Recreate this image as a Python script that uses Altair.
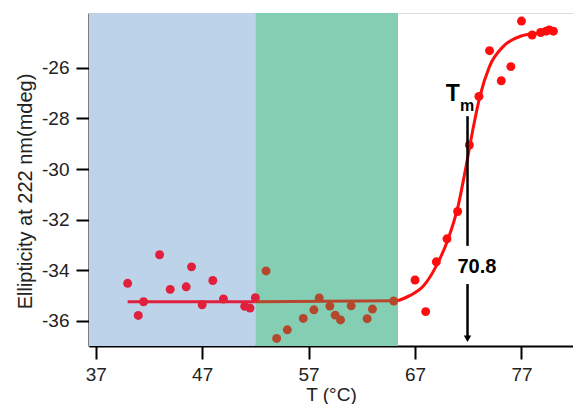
import altair as alt
import pandas as pd

# ---- data ----
blue_T = [40.0, 41.0, 41.5, 43.0, 44.0, 45.5, 46.0, 47.0, 48.0, 49.0, 51.0, 51.5, 52.0]
blue_E = [-34.52, -35.79, -35.25, -33.39, -34.76, -34.66, -33.87, -35.37, -34.41, -35.14, -35.43, -35.50, -35.09]

green_T = [53.0, 54.0, 55.0, 56.5, 57.5, 58.0, 59.0, 59.5, 60.0, 61.0, 62.5, 63.0, 65.0]
green_E = [-34.03, -36.70, -36.36, -35.91, -35.57, -35.10, -35.42, -35.78, -35.97, -35.41, -35.92, -35.54, -35.22]

white_T = [67.0, 68.0, 69.0, 70.0, 71.0, 72.1, 73.0, 74.0, 75.1, 76.0, 77.0, 78.0, 78.8, 79.3, 79.6, 80.0]
white_E = [-34.39, -35.64, -33.67, -32.76, -31.68, -29.05, -27.13, -25.32, -26.51, -25.95, -24.15, -24.70, -24.60, -24.55, -24.50, -24.55]

fit_blue_T = [40.0, 52.0]
fit_blue_E = [-35.25, -35.25]
fit_green_T = [52.0, 65.4]
fit_green_E = [-35.25, -35.21]
fit_white_T = [65.4, 66.5, 67.8, 69.0, 70.1, 71.05, 71.8, 72.5, 73.1, 74.0, 75.3, 76.9, 78.7, 80.1]
fit_white_E = [-35.21, -35.01, -34.62, -33.83, -32.78, -31.46, -29.88, -28.30, -27.12, -25.94, -25.15, -24.75, -24.62, -24.58]

regions_start = [36.37, 52.0]
regions_end = [52.0, 65.4]
regions_color = ["#bdd3e9", "#84cfb4"]

x_ticks = [37, 47, 57, 67, 77]
y_ticks = [-36, -34, -32, -30, -28, -26]
x_domain = [36.37, 81.84]
y_domain = [-37.0, -23.83]

tm_x = 71.93
tm_label = "70.8"

W, H = 484, 333
FONT = "Liberation Sans"

xs = alt.Scale(domain=x_domain, nice=False, zero=False)
ys = alt.Scale(domain=y_domain, nice=False, zero=False)

x_axis = alt.Axis(values=x_ticks, title="T (°C)", grid=False, tickSize=13, tickWidth=2,
                  domainWidth=2, domainColor="black", tickColor="black",
                  labelFontSize=19, labelColor="#222222", labelFont=FONT, labelPadding=6,
                  labelExpr="'' + datum.value",
                  titleFontSize=19, titleFont=FONT, titleFontWeight="normal", titleColor="#222222",
                  titlePadding=1)
y_axis = alt.Axis(values=y_ticks, title="Ellipticity at 222 nm(mdeg)", grid=False, tickSize=13,
                  tickWidth=2, domainWidth=2, domainColor="black", tickColor="black",
                  labelFontSize=19, labelColor="#222222", labelFont=FONT, labelPadding=7,
                  labelExpr="'' + datum.value",
                  titleFontSize=20, titleFont=FONT, titleFontWeight="normal", titleColor="#222222",
                  titlePadding=6, titleY=178)

reg_df = pd.DataFrame({"x": regions_start, "x2": regions_end, "c": regions_color})
rects = alt.Chart(reg_df).mark_rect().encode(
    x=alt.X("x:Q", scale=xs, axis=x_axis),
    x2="x2:Q",
    y=alt.value(0),
    y2=alt.value(H),
    color=alt.Color("c:N", scale=None),
)

def line(T, E, color):
    df = pd.DataFrame({"T": T, "E": E})
    return alt.Chart(df).mark_line(color=color, strokeWidth=3, interpolate="monotone").encode(
        x=alt.X("T:Q", scale=xs, axis=x_axis), y=alt.Y("E:Q", scale=ys, axis=y_axis))

def pts(T, E, color):
    df = pd.DataFrame({"T": T, "E": E})
    return alt.Chart(df).mark_circle(color=color, size=80, opacity=1).encode(
        x=alt.X("T:Q", scale=xs), y=alt.Y("E:Q", scale=ys))

c_blue, c_green, c_white = "#e0203c", "#b5482c", "#ff0d0d"

layers = [
    rects,
    line(fit_blue_T, fit_blue_E, c_blue),
    line(fit_green_T, fit_green_E, c_green),
    line(fit_white_T, fit_white_E, c_white),
    pts(blue_T, blue_E, c_blue),
    pts(green_T, green_E, c_green),
    pts(white_T, white_E, c_white),
]

rule_df = pd.DataFrame({"x": [tm_x, tm_x], "y": [-27.91, -34.55], "y2": [-33.04, -36.75]})
rules = alt.Chart(rule_df).mark_rule(color="black", strokeWidth=2.5).encode(
    x=alt.X("x:Q", scale=xs), y=alt.Y("y:Q", scale=ys), y2="y2:Q")
head = alt.Chart(pd.DataFrame({"x": [tm_x], "y": [-36.71]})).mark_point(
    shape="triangle-down", filled=True, color="black", size=55, opacity=1).encode(
    x=alt.X("x:Q", scale=xs), y=alt.Y("y:Q", scale=ys))

txt_df = pd.DataFrame({"x": [70.55, 71.9, 72.81], "y": [-27.05, -27.5, -33.88],
                       "t": ["T", "m", tm_label], "s": [23, 16, 20]})
texts = alt.Chart(txt_df).mark_text(fontWeight="bold", font=FONT, color="black",
                                    align="center", baseline="middle").encode(
    x=alt.X("x:Q", scale=xs), y=alt.Y("y:Q", scale=ys), text="t:N",
    size=alt.Size("s:Q", scale=None))

layers += [rules, head, texts]

chart = alt.layer(*layers).properties(
    width=W, height=H,
    autosize=alt.AutoSizeParams(type="none"),
    padding={"left": 81, "top": 5, "right": 0, "bottom": 58},
).configure_view(stroke="black", strokeWidth=2).configure(background="white")

chart.save("out.html", embed_options={"renderer": "svg", "actions": False})
